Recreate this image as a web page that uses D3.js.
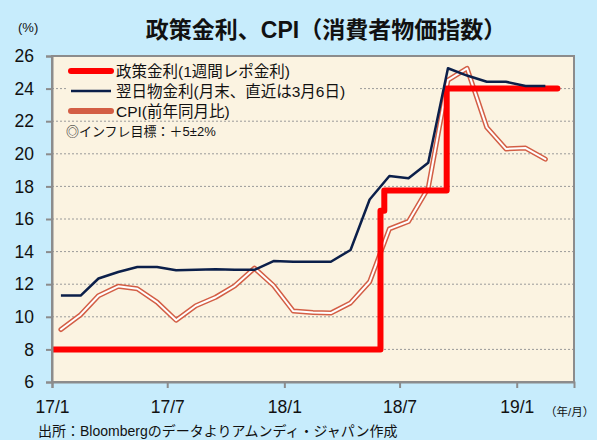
<!DOCTYPE html>
<html>
<head>
<meta charset="utf-8">
<script src="https://cdn.jsdelivr.net/npm/d3@7"></script>
<style>
  body { margin: 0; background: #c7ecfc; }
  svg { display: block; }
  text { font-family: "Liberation Sans", "Noto Sans CJK JP", sans-serif; fill: #111; }
</style>
</head>
<body>
<script>
// monthly series (plotted mid-month)
var months = ["2017-01","2017-02","2017-03","2017-04","2017-05","2017-06","2017-07","2017-08","2017-09","2017-10","2017-11","2017-12",
              "2018-01","2018-02","2018-03","2018-04","2018-05","2018-06","2018-07","2018-08","2018-09","2018-10","2018-11","2018-12",
              "2019-01","2019-02"];
var overnight = [11.3, 11.3, 12.35, 12.75, 13.05, 13.05, 12.85, 12.88, 12.92, 12.88, 12.88, 13.42,
                 13.38, 13.38, 13.38, 14.1, 17.2, 18.64, 18.5, 19.45, 25.25, 24.8, 24.42, 24.42,
                 24.16, 24.16];
var cpi = [9.22, 10.13, 11.29, 11.87, 11.72, 10.9, 9.79, 10.68, 11.2, 11.9, 12.98, 11.92,
           10.35, 10.26, 10.23, 10.85, 12.15, 15.39, 15.85, 17.9, 24.52, 25.24, 21.62, 20.3,
           20.35, 19.67];
// policy rate change dates (step)
var policyDates = ["2017-01-01", "2018-06-01", "2018-06-07", "2018-09-13", "2019-03-06"];
var policyRate = [8, 16.5, 17.75, 24, 24];

var xTicks = ["2017-01-01", "2017-07-01", "2018-01-01", "2018-07-01", "2019-01-01"];
var xTickLabels = ["17/1", "17/7", "18/1", "18/7", "19/1"];
var yTicks = [6, 8, 10, 12, 14, 16, 18, 20, 22, 24, 26];

var legendNames = ["政策金利(1週間レポ金利)", "翌日物金利(月末、直近は3月6日)", "CPI(前年同月比)"];
var colors = { policy: "#ff0000", overnight: "#0b1f4a", cpi: "#d35e45", bg: "#c7ecfc", plot: "#fbf3e1", axis: "#8c8c8c" };

var W = 597, H = 440;
var pL = 52, pR = 574, pT = 56, pB = 382;
var parse = d3.timeParse("%Y-%m-%d");

var x = d3.scaleTime().domain([parse("2017-01-01"), parse("2019-04-01")]).range([pL, pR]);
var y = d3.scaleLinear().domain([6, 26]).range([pB, pT]);

var svg = d3.select("body").append("svg").attr("width", W).attr("height", H);
svg.append("rect").attr("width", W).attr("height", H).attr("fill", colors.bg);
svg.append("rect").attr("x", pL).attr("y", pT).attr("width", pR - pL).attr("height", pB - pT)
  .attr("fill", colors.plot);

// grid
svg.append("g").selectAll("line").data(yTicks.slice(1, -1)).enter().append("line")
  .attr("x1", pL).attr("x2", pR)
  .attr("y1", function(d) { return y(d); }).attr("y2", function(d) { return y(d); })
  .attr("stroke", "#9a9a9a").attr("stroke-width", 1).attr("stroke-dasharray", "2,2");

// legend box hides grid
svg.append("rect").attr("x", 68).attr("y", 59).attr("width", 290).attr("height", 60).attr("fill", colors.plot);

svg.append("defs").append("clipPath").attr("id", "clip")
  .append("rect").attr("x", pL).attr("y", pT).attr("width", pR - pL).attr("height", pB - pT);

var plot = svg.append("g").attr("clip-path", "url(#clip)");

var mid = function(m) { return parse(m + "-15"); };

var cpiLine = d3.line().x(function(d, i) { return x(mid(months[i])); }).y(function(d) { return y(d); });
plot.append("path").datum(cpi).attr("d", cpiLine).attr("fill", "none")
  .attr("stroke", colors.cpi).attr("stroke-width", 5).attr("stroke-linejoin", "round").attr("stroke-linecap", "round");
plot.append("path").datum(cpi).attr("d", cpiLine).attr("fill", "none")
  .attr("stroke", "#fff").attr("stroke-width", 2).attr("stroke-linejoin", "round").attr("stroke-linecap", "round");

var policyLine = d3.line().curve(d3.curveStepAfter)
  .x(function(d, i) { return x(parse(policyDates[i])); }).y(function(d) { return y(d); });
plot.append("path").datum(policyRate).attr("d", policyLine).attr("fill", "none")
  .attr("stroke", colors.policy).attr("stroke-width", 6).attr("stroke-linejoin", "round").attr("stroke-linecap", "round");

var onLine = d3.line().x(function(d, i) { return x(mid(months[i])); }).y(function(d) { return y(d); });
plot.append("path").datum(overnight).attr("d", onLine).attr("fill", "none")
  .attr("stroke", colors.overnight).attr("stroke-width", 2.5).attr("stroke-linejoin", "round");

// border
svg.append("rect").attr("x", pL).attr("y", pT).attr("width", pR - pL).attr("height", pB - pT)
  .attr("fill", "none").attr("stroke", colors.axis).attr("stroke-width", 2);

// axes
var yAxis = d3.axisLeft(y).tickValues(yTicks).tickSize(6).tickPadding(12);
var gy = svg.append("g").attr("transform", "translate(" + pL + ",0)").call(yAxis);
var xAxis = d3.axisBottom(x).tickValues(xTicks.map(parse)).tickSize(6).tickPadding(13)
  .tickFormat(function(d, i) { return xTickLabels[i]; });
var gx = svg.append("g").attr("transform", "translate(0," + pB + ")").call(xAxis);
[gx, gy].forEach(function(g) {
  g.select(".domain").attr("stroke", colors.axis).attr("stroke-width", 2);
  g.selectAll(".tick line").attr("stroke", colors.axis).attr("stroke-width", 2);
  g.selectAll(".tick text").attr("font-size", 17.5).attr("fill", "#111")
    .attr("font-family", "Liberation Sans, sans-serif");
});
gy.selectAll(".tick text").attr("x", -18);

// title and labels
svg.append("text").attr("x", 326).attr("y", 38).attr("text-anchor", "middle")
  .attr("font-size", 23).attr("font-weight", "bold").text("政策金利、CPI（消費者物価指数）");
svg.append("text").attr("x", 18).attr("y", 32).attr("font-size", 13).text("(%)");
svg.append("text").attr("x", 545).attr("y", 416).attr("font-size", 11.5).text("（年/月）");
svg.append("text").attr("x", 38).attr("y", 436).attr("font-size", 14).text("出所：Bloombergのデータよりアムンディ・ジャパン作成");

// legend
var legendStyle = [
  { color: colors.policy, width: 6, cap: "round" },
  { color: colors.overnight, width: 2.5, cap: "butt" },
  { color: colors.cpi, width: 6, cap: "round" }
];
var lg = svg.append("g").selectAll("g").data(legendNames).enter().append("g")
  .attr("transform", function(d, i) { return "translate(0," + (71 + i * 20) + ")"; });
lg.append("line").attr("x1", 71).attr("x2", 111).attr("y1", 0).attr("y2", 0)
  .attr("stroke", function(d, i) { return legendStyle[i].color; })
  .attr("stroke-width", function(d, i) { return legendStyle[i].width; })
  .attr("stroke-linecap", function(d, i) { return legendStyle[i].cap; });
lg.append("text").attr("x", 116).attr("y", 5.5).attr("font-size", 15.5).text(function(d) { return d; });

svg.append("text").attr("x", 66).attr("y", 136).attr("font-size", 13).text("◎インフレ目標：＋5±2%");
</script>
</body>
</html>
